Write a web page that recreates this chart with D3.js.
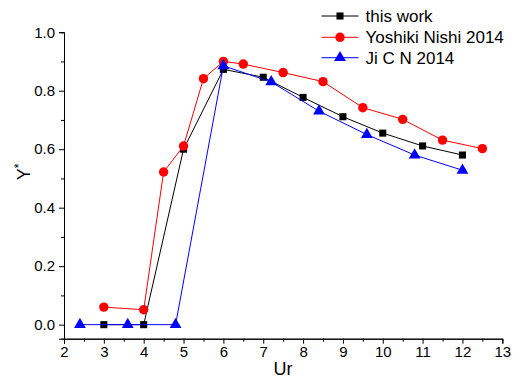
<!doctype html>
<html>
<head>
<meta charset="UTF-8">
<title>Y* vs Ur</title>
<script src="https://d3js.org/d3.v7.min.js"></script>
<style>
  body { margin: 0; background: #fff; }
  text { font-family: Arial, "Liberation Sans", sans-serif; fill: #000; }
</style>
</head>
<body>
<script>
// data
var workX = [3, 4, 5, 6, 7, 8, 9, 10, 11, 12];
var workY = [0, 0, 0.60, 0.873, 0.846, 0.777, 0.711, 0.655, 0.611, 0.58];

var nishiX = [3, 4, 4.5, 5, 5.5, 6, 6.5, 7.5, 8.5, 9.5, 10.5, 11.5, 12.5];
var nishiY = [0.06, 0.051, 0.522, 0.611, 0.841, 0.9, 0.891, 0.862, 0.831, 0.742, 0.702, 0.631, 0.602];

var jiX = [2.4, 3.6, 4.8, 6.0, 7.2, 8.4, 9.6, 10.8, 12.0];
var jiY = [0, 0, 0, 0.885, 0.83, 0.73, 0.65, 0.58, 0.528];

var xTicks = [2, 3, 4, 5, 6, 7, 8, 9, 10, 11, 12, 13];
var yTicks = [0, 0.2, 0.4, 0.6, 0.8, 1.0];

var seriesNames = ["this work", "Yoshiki Nishi 2014", "Ji C N 2014"];
var seriesColors = ["#000000", "#ff0000", "#0000ff"];
var seriesShapes = [d3.symbolSquare, d3.symbolCircle, d3.symbolTriangle];

var W = 517, H = 378;
var mLeft = 64, mRight = 502.3, mTop = 32.2, mBottom = 338.7;

var svg = d3.select("body").append("svg")
    .attr("width", W)
    .attr("height", H);

var x = d3.scaleLinear().domain([2, 13]).range([mLeft, mRight]);
var y = d3.scaleLinear().domain([-0.048, 1.0]).range([mBottom, mTop]);

// axes
svg.append("g")
    .attr("transform", "translate(0," + mBottom + ")")
    .call(d3.axisBottom(x).tickValues(xTicks).tickFormat(d3.format("d")).tickSizeOuter(0).tickSize(5).tickPadding(3));
svg.append("g")
    .attr("transform", "translate(0," + mBottom + ")")
    .call(d3.axisBottom(x).tickValues(d3.range(2.5, 13, 1)).tickFormat("").tickSizeOuter(0).tickSize(3));

svg.append("g")
    .attr("transform", "translate(" + mLeft + ",0)")
    .call(d3.axisLeft(y).tickValues(yTicks).tickFormat(d3.format(".1f")).tickSizeOuter(0).tickSize(5).tickPadding(4));
svg.append("g")
    .attr("transform", "translate(" + mLeft + ",0)")
    .call(d3.axisLeft(y).tickValues([0.1, 0.3, 0.5, 0.7, 0.9]).tickFormat("").tickSizeOuter(0).tickSize(3));

svg.selectAll(".domain").attr("stroke", "#000").attr("stroke-width", 1);
svg.selectAll(".tick line").attr("stroke", "#000");
svg.selectAll(".tick text")
    .style("font-family", "Arial, 'Liberation Sans', sans-serif")
    .style("font-size", "15px")
    .attr("fill", "#000");

// axis titles
svg.append("text")
    .attr("x", 283)
    .attr("y", 375)
    .attr("text-anchor", "middle")
    .style("font-size", "18px")
    .text("Ur");

var yt = svg.append("text")
    .attr("transform", "translate(30,172) rotate(-90)")
    .attr("text-anchor", "middle")
    .style("font-size", "18px");
yt.append("tspan").text("Y");
yt.append("tspan").attr("dy", -7).style("font-size", "12px").text("*");

// series
var series = [
    { xs: workX, ys: workY },
    { xs: nishiX, ys: nishiY },
    { xs: jiX, ys: jiY }
];

var line = d3.line()
    .x(function (d) { return x(d[0]); })
    .y(function (d) { return y(d[1]); });

var symSizes = [50, 70, 60];

series.forEach(function (s, i) {
    var pts = s.xs.map(function (v, j) { return [v, s.ys[j]]; });
    svg.append("path")
        .datum(pts)
        .attr("d", line)
        .attr("fill", "none")
        .attr("stroke", seriesColors[i])
        .attr("stroke-width", 1);
    svg.selectAll(".pt" + i)
        .data(pts)
        .enter()
        .append("path")
        .attr("class", "pt" + i)
        .attr("d", d3.symbol().type(seriesShapes[i]).size(symSizes[i]))
        .attr("transform", function (d) { return "translate(" + x(d[0]) + "," + y(d[1]) + ")"; })
        .attr("fill", seriesColors[i]);
});

// legend
var legY = [16, 37.3, 57.7];
seriesNames.forEach(function (name, i) {
    var g = svg.append("g").attr("transform", "translate(0," + legY[i] + ")");
    g.append("line")
        .attr("x1", 321.5).attr("x2", 358.5)
        .attr("y1", 0).attr("y2", 0)
        .attr("stroke", seriesColors[i])
        .attr("stroke-width", 1);
    g.append("path")
        .attr("d", d3.symbol().type(seriesShapes[i]).size(symSizes[i]))
        .attr("transform", "translate(340,0)")
        .attr("fill", seriesColors[i]);
    g.append("text")
        .attr("x", 365.5)
        .attr("y", 6)
        .style("font-size", "17px")
        .text(name);
});
</script>
</body>
</html>
